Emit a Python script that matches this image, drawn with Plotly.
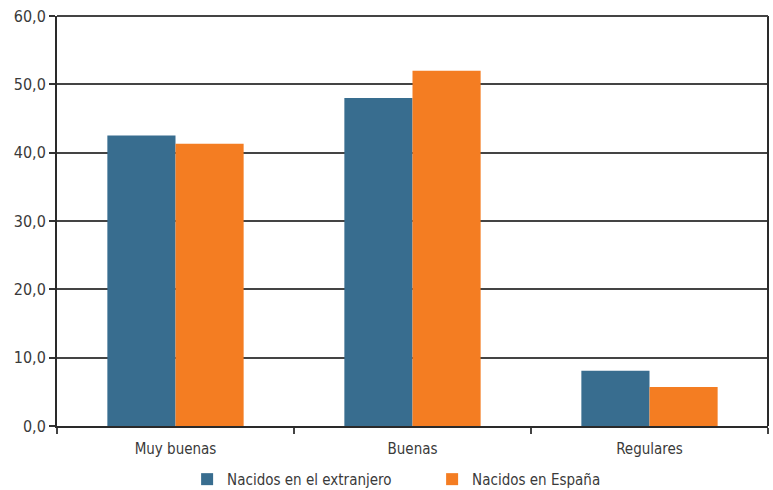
import plotly.graph_objects as go

categories = ["Muy buenas", "Buenas", "Regulares"]
extranjero = [42.5, 48.0, 8.1]
espana = [41.3, 52.0, 5.7]
series_names = ["Nacidos en el extranjero", "Nacidos en España"]
colors = ["#386D8F", "#F47D22"]

FONT = "DejaVu Sans Condensed, Roboto, sans-serif"

fig = go.Figure()
fig.add_trace(go.Bar(x=categories, y=extranjero, name=series_names[0],
                     marker=dict(color=colors[0], line=dict(width=0))))
fig.add_trace(go.Bar(x=categories, y=espana, name=series_names[1],
                     marker=dict(color=colors[1], line=dict(width=0))))

fig.update_layout(
    width=773, height=490,
    margin=dict(l=57, r=5, t=16, b=64, autoexpand=False),
    paper_bgcolor="white", plot_bgcolor="white",
    barmode="group", bargap=0.425, bargroupgap=0,
    separators=",.",
    font=dict(family=FONT, size=15, color="#3a3a3a"),
    showlegend=True,
    legend=dict(orientation="h", x=0.183, xanchor="left", y=-0.09, yanchor="top",
                font=dict(family=FONT, size=15, color="#3a3a3a"),
                traceorder="normal", entrywidth=200, itemwidth=30),
    xaxis=dict(type="category", showline=True, linecolor="#2a2a2a", linewidth=2,
               ticks="outside", tickson="boundaries", ticklen=6, tickwidth=2, tickcolor="#444",
               ticklabelstandoff=8,
               showgrid=False, mirror=False, automargin=False,
               tickfont=dict(family=FONT, size=15, color="#3a3a3a")),
    yaxis=dict(range=[0, 60], dtick=10, tickformat=".1f", showline=True, linecolor="#2a2a2a",
               linewidth=2, ticks="outside", ticklen=6, tickwidth=2, tickcolor="#333",
               showgrid=True, gridcolor="#444", gridwidth=2, zeroline=False, automargin=False,
               tickfont=dict(family=FONT, size=16, color="#3a3a3a")),
)
# right border and top line
fig.add_shape(type="line", xref="paper", yref="paper", x0=1, x1=1, y0=0, y1=1,
              line=dict(color="#2a2a2a", width=2))
fig.add_shape(type="line", xref="paper", yref="paper", x0=0, x1=1, y0=1, y1=1,
              line=dict(color="#444", width=2))

fig.write_html("out.html", config={"displayModeBar": False},
               post_script="document.body.style.margin='0';document.body.style.overflow='hidden';")
